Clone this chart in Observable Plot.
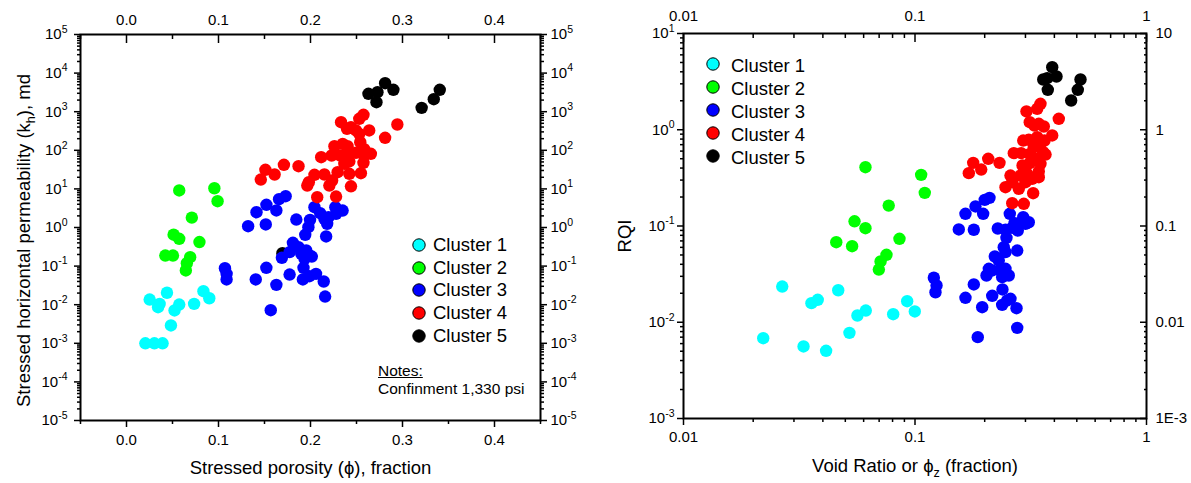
<!DOCTYPE html>
<html><head><meta charset="utf-8">
<script src="https://cdn.jsdelivr.net/npm/d3@7"></script>
<script src="https://cdn.jsdelivr.net/npm/@observablehq/plot@0.6"></script>
<style>
html,body{margin:0;padding:0;background:#fff;}
#wrap{position:relative;width:1191px;height:483px;overflow:hidden;font-family:"Liberation Sans",Arial,Helvetica,sans-serif;color:#000;}
.panel{position:absolute;top:0;}
.legend{position:absolute;font-size:18.5px;}
.legend .row{display:flex;align-items:center;white-space:nowrap;}
.legend svg{flex:none;}
.notes{position:absolute;font-size:15.5px;line-height:18px;white-space:nowrap;}
</style></head><body><div id="wrap"></div>
<script>
// ---------------- data ----------------
const clusters = ["Cluster 1", "Cluster 2", "Cluster 3", "Cluster 4", "Cluster 5"];
const clusterColors = ["#00ffff", "#00ff00", "#0000ff", "#ff0000", "#000000"];

// Left panel: stressed porosity (fraction) vs stressed horizontal permeability (md)
const c1Phi = [0.0205,0.0303,0.0392,0.0252,0.0343,0.036,0.044,0.0483,0.0522,0.0573,0.0735,0.0836,0.09];
const c1K   = [0.001,0.001,0.001,0.0136,0.0086,0.0105,0.0204,0.0029,0.0071,0.0101,0.0105,0.0224,0.0147];
const c2Phi = [0.0573,0.0955,0.099,0.071,0.0512,0.0573,0.0793,0.0422,0.0505,0.0692,0.0656,0.0645];
const c2K   = [9.1,10.4,4.8,1.8,0.65,0.51,0.42,0.188,0.188,0.17,0.119,0.077];
const c3Phi = [0.1322,0.1413,0.1521,0.1514,0.1629,0.1658,0.173,0.1846,0.2043,0.2105,0.1995,0.1977,0.2151,0.2195,0.227,0.2349,0.2278,0.1943,0.217,0.1809,0.187,0.1954,0.19,0.1989,0.2014,0.1935,0.1689,0.1924,0.152,0.1773,0.1917,0.1989,0.206,0.2144,0.1405,0.1629,0.2159,0.1568,0.107,0.1088,0.1088,0.1773,0.2181];
const c3K   = [1.08,2.49,3.87,1.2,2.76,5.41,6.47,1.61,3.36,2.35,1.58,1.02,1.68,1.85,3.36,2.75,2.26,0.647,0.585,0.401,0.309,0.254,0.208,0.188,0.177,0.155,0.164,0.0904,0.0904,0.0605,0.045,0.0547,0.063,0.0399,0.045,0.0327,0.0163,0.0072,0.088,0.063,0.045,0.23,1.25];
const c4Phi = [0.146,0.151,0.161,0.1711,0.187,0.2332,0.253,0.2576,0.2944,0.2397,0.244,0.2494,0.253,0.2638,0.2811,0.2541,0.226,0.235,0.2403,0.223,0.2116,0.2324,0.2386,0.2494,0.2584,0.2656,0.2368,0.2422,0.2576,0.2295,0.2043,0.1982,0.1965,0.2151,0.2235,0.2205,0.2422,0.2548,0.244,0.2073,0.2278,0.2584];
const c4K   = [17.5,31.3,23.6,42.1,38.7,535,655,832,466,361,396,326,267,326,211,162,128,147,128,73.3,66.2,73.3,81.1,86.1,73.3,81.1,44.6,51.3,47.4,27.1,23.2,14.9,12.2,23.6,16.5,12.2,24.6,25.5,11.7,6.1,6.35,107];
const c5Phi = [0.1695,0.263,0.2728,0.2811,0.2901,0.2717,0.3208,0.334,0.3405];
const c5K   = [0.216,2910,3200,5480,3690,1760,1260,2110,3690];

// Right panel: void ratio (phi_z) vs RQI
const c1Void = [0.0221,0.0267,0.033,0.0357,0.038,0.0413,0.0466,0.0521,0.0564,0.0613,0.0805,0.0925,0.0998];
const c1Rqi  = [0.00683,0.0235,0.0056,0.0158,0.0171,0.00505,0.0215,0.00776,0.01175,0.01324,0.01213,0.01655,0.01294];
const c2Void = [0.0611,0.077,0.0548,0.0611,0.0457,0.0535,0.0857,0.1063,0.1102,0.0753,0.071,0.0698];
const c2Rqi  = [0.408,0.163,0.112,0.0948,0.0679,0.0617,0.0736,0.34,0.221,0.0502,0.0428,0.0353];
const c3Void = [0.1546,0.1795,0.1652,0.1825,0.197,0.2001,0.2098,0.2279,0.2567,0.246,0.269,0.278,0.2934,0.3101,0.2484,0.2418,0.2764,0.246,0.2212,0.2301,0.2084,0.2156,0.2036,0.234,0.246,0.2542,0.238,0.1795,0.1652,0.2156,0.2387,0.1951,0.238,0.2585,0.2745,0.2764,0.1867,0.1206,0.1239,0.1226,0.3002,0.263,0.2502];
const c3Rqi  = [0.092,0.0914,0.134,0.1595,0.134,0.187,0.196,0.0942,0.134,0.0914,0.107,0.0898,0.1234,0.1094,0.0754,0.0603,0.0556,0.0535,0.0482,0.0438,0.0359,0.0345,0.0306,0.0345,0.0359,0.0306,0.0294,0.0247,0.01795,0.01884,0.0219,0.01432,0.01517,0.01754,0.014,0.00875,0.007,0.029,0.0241,0.0205,0.1054,0.0957,0.01683];
const c4Void = [0.303,0.3372,0.3484,0.418,0.3131,0.3281,0.3426,0.3601,0.3915,0.2934,0.3101,0.3372,0.3259,0.346,0.358,0.3663,0.2672,0.2875,0.3131,0.3131,0.3484,0.1784,0.2072,0.2317,0.1708,0.1932,0.2585,0.2855,0.3052,0.3207,0.3426,0.246,0.263,0.2808,0.3239,0.263,0.2951,0.3002,0.3426,0.3314,0.2914,0.3626];
const c4Rqi  = [1.548,1.651,1.861,1.3,1.198,1.107,1.153,1.081,0.872,0.773,0.786,0.837,0.659,0.659,0.584,0.553,0.571,0.571,0.562,0.449,0.443,0.453,0.499,0.453,0.354,0.386,0.3346,0.3346,0.3485,0.3093,0.3214,0.253,0.285,0.2434,0.2192,0.1725,0.17,0.285,0.3684,0.5027,0.4252,0.773];
const c5Void = [0.3915,0.358,0.3725,0.4086,0.3747,0.5187,0.5049,0.4727];
const c5Rqi  = [4.466,3.327,3.432,3.574,2.601,3.327,2.601,2.013];

// Tick values and labels
const porosityTicks = [0, 0.1, 0.2, 0.3, 0.4];
const porosityMinor = [-0.05, 0.05, 0.15, 0.25, 0.35, 0.45];
const permTicks = [1e-5, 1e-4, 1e-3, 1e-2, 1e-1, 1, 10, 100, 1e3, 1e4, 1e5];
const voidTicks = [0.01, 0.1, 1];
const voidTickLabels = ["0.01", "0.1", "1"];
const rqiTicks = [0.001, 0.01, 0.1, 1, 10];
const rqiRightLabels = ["1E-3", "0.01", "0.1", "1", "10"];
const minorMultipliers = [2, 3, 4, 5, 6, 7, 8, 9];

// ---------------- helpers ----------------
const NS = "http://www.w3.org/2000/svg";
const FONT = '"Liberation Sans", Arial, Helvetica, sans-serif';
const drawOrder = [4, 0, 1, 2, 3];
function makeRows(xs, ys) {
  return drawOrder.flatMap(i => xs[i].map((x, j) => ({cluster: clusters[i], x, y: ys[i][j]})));
}
function minorLog(majors) {
  const out = [];
  for (let i = 0; i < majors.length - 1; i++) for (const m of minorMultipliers) out.push(m * majors[i]);
  return out;
}
const supFmt = d => "10^" + Math.round(Math.log10(d));
const fromList = (vals, labels) => d => labels[vals.findIndex(v => Math.abs(v - d) / v < 1e-6)];

function tickFonts(svg) {
  svg.querySelectorAll('[aria-label$="tick label"]').forEach(g => {
    g.setAttribute("font-size", "15px");
    g.style.fontSize = "15px";
    g.querySelectorAll("text").forEach(t => { t.removeAttribute("font-size"); t.style.fontSize = "15px"; });
  });
}
function superscripts(svg) {
  svg.querySelectorAll("text").forEach(t => {
    const m = t.textContent.match(/^10\^(-?\d+)$/);
    if (!m) return;
    while (t.firstChild) t.removeChild(t.firstChild);
    const base = document.createElementNS(NS, "tspan");
    base.textContent = "10";
    const sup = document.createElementNS(NS, "tspan");
    sup.setAttribute("font-size", "10.5px");
    sup.setAttribute("dy", "-6.5");
    sup.textContent = m[1];
    t.appendChild(base); t.appendChild(sup);
  });
}
function richLabel(svg, which, parts, size, shift) {
  const g = svg.querySelector(`[aria-label="${which}-axis label"]`);
  if (!g) return;
  const t = g.querySelector("text");
  while (t.firstChild) t.removeChild(t.firstChild);
  t.setAttribute("font-size", size + "px");
  let cur = 0;
  for (const p of parts) {
    const ts = document.createElementNS(NS, "tspan");
    ts.textContent = p.t;
    const target = p.sub ? size * 0.3 : 0;
    if (p.sub) ts.setAttribute("font-size", (size * 0.68) + "px");
    if (target !== cur) ts.setAttribute("dy", target - cur);
    cur = target;
    t.appendChild(ts);
  }
  if (shift) g.setAttribute("transform", (g.getAttribute("transform") || "") + ` translate(${shift[0]},${shift[1]})`);
}

const tickStyle = {stroke: "black", strokeWidth: 1.5, fontSize: 15};
const style = {fontFamily: FONT, fontSize: "15px", background: "white", color: "black", overflow: "visible"};
const wrap = document.getElementById("wrap");

// ---------------- left panel ----------------
const left = Plot.plot({
  width: 595, height: 483,
  marginLeft: 80, marginRight: 55, marginTop: 34, marginBottom: 63,
  style,
  x: {domain: [-0.05, 0.45]},
  y: {type: "log", domain: [1e-5, 1e5]},
  color: {domain: clusters, range: clusterColors},
  marks: [
    Plot.dot(makeRows([c1Phi, c2Phi, c3Phi, c4Phi, c5Phi], [c1K, c2K, c3K, c4K, c5K]),
      {x: "x", y: "y", fill: "cluster", r: 6.2}),
    Plot.axisX({ticks: porosityMinor, anchor: "bottom", tickSize: 4, tickFormat: () => "", label: null, ...tickStyle}),
    Plot.axisX({ticks: porosityTicks, anchor: "bottom", tickSize: 7, tickPadding: 7, tickFormat: d3.format(".1f"),
      label: "Stressed porosity (ϕ), fraction", labelAnchor: "center", labelOffset: 53, ...tickStyle}),
    Plot.axisX({ticks: porosityMinor, anchor: "top", tickSize: -4, tickFormat: () => "", label: null, ...tickStyle}),
    Plot.axisX({ticks: porosityTicks, anchor: "top", tickSize: -8, tickPadding: 18, tickFormat: d3.format(".1f"), label: null, ...tickStyle}),
    Plot.axisY({ticks: minorLog(permTicks), anchor: "left", tickSize: 3, tickFormat: () => "", label: null, ...tickStyle}),
    Plot.axisY({ticks: permTicks, anchor: "left", tickSize: 6, tickPadding: 7, tickFormat: supFmt,
      label: "kh", labelAnchor: "center", labelOffset: 64, ...tickStyle}),
    Plot.axisY({ticks: minorLog(permTicks), anchor: "right", tickSize: 3, tickFormat: () => "", label: null, ...tickStyle}),
    Plot.axisY({ticks: permTicks, anchor: "right", tickSize: 6, tickPadding: 4, tickFormat: supFmt, label: null, ...tickStyle}),
    Plot.frame({stroke: "black", strokeWidth: 2})
  ]
});
left.classList.add("panel");
left.style.left = "0px";
wrap.appendChild(left);
tickFonts(left);
superscripts(left);
richLabel(left, "x", [{t: "Stressed porosity (ϕ), fraction"}], 18.5);
richLabel(left, "y", [{t: "Stressed horizontal permeability (k"}, {t: "h", sub: true}, {t: "), md"}], 18.5, [0, 13]);

// ---------------- right panel ----------------
const right = Plot.plot({
  width: 596, height: 483,
  marginLeft: 88, marginRight: 45, marginTop: 33, marginBottom: 65,
  style,
  x: {type: "log", domain: [0.01, 1]},
  y: {type: "log", domain: [0.001, 10]},
  color: {domain: clusters, range: clusterColors},
  marks: [
    Plot.dot(makeRows([c1Void, c2Void, c3Void, c4Void, c5Void], [c1Rqi, c2Rqi, c3Rqi, c4Rqi, c5Rqi]),
      {x: "x", y: "y", fill: "cluster", r: 6.2}),
    Plot.axisX({ticks: minorLog(voidTicks), anchor: "bottom", tickSize: 4, tickFormat: () => "", label: null, ...tickStyle}),
    Plot.axisX({ticks: voidTicks, anchor: "bottom", tickSize: 7, tickPadding: 6, tickFormat: fromList(voidTicks, voidTickLabels),
      label: "void", labelAnchor: "center", labelOffset: 53, ...tickStyle}),
    Plot.axisX({ticks: minorLog(voidTicks), anchor: "top", tickSize: -4, tickFormat: () => "", label: null, ...tickStyle}),
    Plot.axisX({ticks: voidTicks, anchor: "top", tickSize: -8, tickPadding: 21, tickFormat: fromList(voidTicks, voidTickLabels), label: null, ...tickStyle}),
    Plot.axisY({ticks: minorLog(rqiTicks), anchor: "left", tickSize: 3, tickFormat: () => "", label: null, ...tickStyle}),
    Plot.axisY({ticks: rqiTicks, anchor: "left", tickSize: 6, tickPadding: 3, tickFormat: supFmt,
      label: "RQI", labelAnchor: "center", labelOffset: 66, ...tickStyle}),
    Plot.axisY({ticks: minorLog(rqiTicks), anchor: "right", tickSize: -3, tickFormat: () => "", label: null, ...tickStyle}),
    Plot.axisY({ticks: rqiTicks, anchor: "right", tickSize: -7, tickPadding: 16, tickFormat: fromList(rqiTicks, rqiRightLabels), label: null, ...tickStyle}),
    Plot.frame({stroke: "black", strokeWidth: 2})
  ]
});
right.classList.add("panel");
right.style.left = "595px";
wrap.appendChild(right);
tickFonts(right);
superscripts(right);
richLabel(right, "x", [{t: "Void Ratio or ϕ"}, {t: "z", sub: true}, {t: " (fraction)"}], 18.5);
richLabel(right, "y", [{t: "RQI"}], 18.5, [0, 10]);

// ---------------- legends & notes ----------------
function legend(leftPx, topPx, rowH, gap, dyText) {
  const div = document.createElement("div");
  div.className = "legend";
  div.style.left = leftPx + "px";
  div.style.top = topPx + "px";
  clusters.forEach((c, i) => {
    const row = document.createElement("div");
    row.className = "row";
    row.style.height = rowH + "px";
    const s = document.createElementNS(NS, "svg");
    s.setAttribute("width", 14); s.setAttribute("height", 14);
    const ci = document.createElementNS(NS, "circle");
    ci.setAttribute("cx", 7); ci.setAttribute("cy", 7); ci.setAttribute("r", 6.2);
    ci.setAttribute("fill", clusterColors[i]); ci.setAttribute("stroke", "#000"); ci.setAttribute("stroke-width", 1);
    s.appendChild(ci);
    s.style.marginRight = gap + "px";
    s.style.position = "relative"; s.style.top = (-dyText) + "px";
    const sp = document.createElement("span");
    sp.textContent = c;
    row.appendChild(s); row.appendChild(sp);
    div.appendChild(row);
  });
  wrap.appendChild(div);
}
legend(412, 233.5, 22.8, 7, 0);
legend(706, 54, 23.2, 11, 2);

const notes = document.createElement("div");
notes.className = "notes";
notes.style.left = "378px";
notes.style.top = "362px";
notes.innerHTML = '<span style="text-decoration:underline">Notes:</span><br>Confinment 1,330 psi';
wrap.appendChild(notes);
</script></body></html>
